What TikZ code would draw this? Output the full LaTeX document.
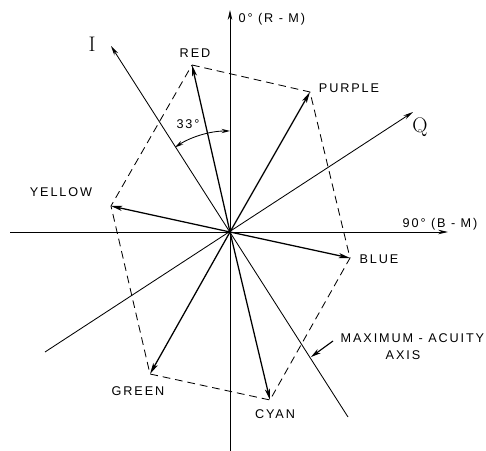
\documentclass[tikz,border=0pt]{standalone}
\usepackage{fontspec}
\usepackage{tikz}
\usetikzlibrary{arrows.meta, calc}
\newfontfamily\draftfont[LetterSpace=15]{Liberation Sans}

\begin{document}
\begin{tikzpicture}[x=0.025cm, y=-0.025cm,
  axis/.style={line width=0.6pt, -{Stealth[length=7pt,width=3.2pt]}},
  vec/.style={line width=0.9pt, -{Stealth[length=8pt,width=3.6pt,inset=2pt]}},
  hex/.style={line width=0.6pt, dash pattern=on 5.5pt off 3.5pt},
  lbl/.style={font=\draftfont\fontsize{9}{10}\selectfont, inner sep=1pt},
  big/.style={font=\fontsize{15}{16}\selectfont, inner sep=1pt},
]
\useasboundingbox (0,0) rectangle (486,451);

%% Origin and ends of the axes
\coordinate (O) at (230,232);
\coordinate (vbot) at (230,451);
\coordinate (vtop) at (230,10);
\coordinate (hleft) at (10,232);
\coordinate (hright) at (448,232);
\coordinate (iend) at (348,417);
\coordinate (itip) at (111,46);
\coordinate (qend) at (45,352);
\coordinate (qtip) at (413,112);

%% Colour vector tips
\coordinate (red) at (192,65);
\coordinate (purple) at (310,92);
\coordinate (blue) at (350,258);
\coordinate (cyan) at (270,400);
\coordinate (green) at (150,374);
\coordinate (yellow) at (111,206);

%% Axes (R-M, B-M, I and Q)
\draw[axis] (vbot) -- (vtop);
\draw[axis] (hleft) -- (hright);
\draw[axis] (iend) -- (itip);
\draw[axis] (qend) -- (qtip);

%% Hexagon through the tips
\draw[hex] (red) -- (purple) -- (blue) -- (cyan) -- (green) -- (yellow) -- cycle;

%% Colour vectors
\foreach \c in {red, purple, blue, cyan, green, yellow} {
  \draw[vec] (O) -- (\c);
}

%% 33 degree angle between R-M and I
\draw[line width=0.6pt, {Stealth[length=6pt,width=3pt]}-{Stealth[length=6pt,width=3pt]}]
  ($(O)+(0,-101)$) arc[start angle=90, end angle=123, radius=2.525cm];
\node[lbl] (ang) at (188,124) {33°};

%% Axis labels
\node[lbl, anchor=west] (rm) at (237,19) {0° (R - M)};
\node[lbl, anchor=west] (bm) at (401,224) {90° (B - M)};
\node[big] (ilbl) at (92,44) {I};
\node[big] (qlbl) at (420,127) {Q};

%% Colour labels
\node[lbl] (redlbl) at (195,53) {RED};
\node[lbl] (purplelbl) at (349,88) {PURPLE};
\node[lbl] (yellowlbl) at (61,192) {YELLOW};
\node[lbl] (bluelbl) at (379,259) {BLUE};
\node[lbl] (cyanlbl) at (275,414) {CYAN};
\node[lbl] (greenlbl) at (138,391) {GREEN};

%% Maximum-acuity axis callout
\node[lbl, anchor=west] (acuity) at (339,338) {MAXIMUM - ACUITY};
\node[lbl] (acuity2) at (403,355) {AXIS};
\coordinate (calltail) at (333,341);
\coordinate (callpt) at (311,357);
\draw[line width=0.8pt, -{Stealth[length=7pt,width=3.6pt]}] (calltail) -- (callpt);
\end{tikzpicture}
\end{document}
